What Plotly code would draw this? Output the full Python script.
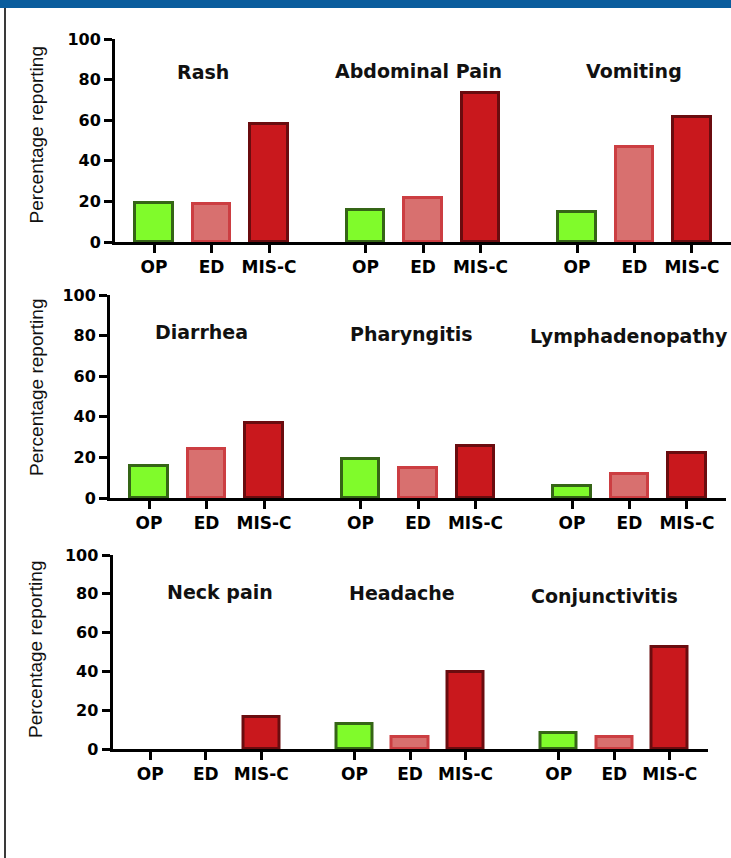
import plotly.graph_objects as go

# ---------------- data ----------------
settings = ["OP", "ED", "MIS-C"]
panel_symptoms = [
    ["Rash", "Abdominal Pain", "Vomiting"],
    ["Diarrhea", "Pharyngitis", "Lymphadenopathy"],
    ["Neck pain", "Headache", "Conjunctivitis"],
]
op_values = [19.0, 16.0, 14.8, 15.9, 19.2, 6.0, 0.0, 12.7, 8.2]
ed_values = [18.5, 21.6, 46.6, 24.2, 14.9, 11.8, 0.0, 6.0, 6.2]
misc_values = [58.0, 73.3, 61.7, 37.0, 25.6, 22.2, 16.5, 39.5, 52.6]
y_ticks = [0, 20, 40, 60, 80, 100]
y_title = "Percentage reporting"

# ---------------- style ----------------
W, H = 731, 858
GROUP_STEP = 3.68
fills = {"OP": "#80fb2b", "ED": "#d8706f", "MIS-C": "#c9181d"}
edges = {"OP": "#356516", "ED": "#cc3e42", "MIS-C": "#6a0c0f"}
values_by_setting = {"OP": op_values, "ED": ed_values, "MIS-C": misc_values}

# panel geometry in pixels: (axis_left, axis_right, y0_px, y100_px)
panels_px = [
    (115, 731, 242, 39),
    (110, 726, 498, 295),
    (112.5, 707.5, 749, 555),
]
# title placement offsets (x in category units, y in data units)
title_pos = [
    [(0.85, 83.7), (4.61, 84.2), (8.35, 84.2)],
    [(0.92, 81.8), (4.56, 80.8), (8.35, 79.8)],
    [(1.26, 80.9), (4.54, 80.4), (8.19, 78.9)],
]
ytitle_px = [(36, 135.5), (36, 388), (35, 650)]

fig = go.Figure()
annotations = []

for p in range(3):
    xa = "x" if p == 0 else f"x{p+1}"
    ya = "y" if p == 0 else f"y{p+1}"
    for k, s in enumerate(settings):
        vals = values_by_setting[s][p * 3:(p + 1) * 3]
        xs = [g * GROUP_STEP + k for g in range(3)]
        fig.add_trace(go.Bar(
            x=xs, y=vals, width=0.65, xaxis=xa, yaxis=ya,
            marker=dict(color=fills[s],
                        line=dict(color=edges[s],
                                  width=[0 if v == 0 else 3 for v in vals])),
            showlegend=False, hoverinfo="y",
        ))
    for g, name in enumerate(panel_symptoms[p]):
        tx, ty = title_pos[p][g]
        annotations.append(dict(
            x=tx, y=ty, xref=xa, yref=ya, text=name, showarrow=False,
            font=dict(family="DejaVu Sans", size=19, color="#111111", weight="bold"),
            xanchor="center", yanchor="middle"))
    ax_px, ay_px = ytitle_px[p]
    annotations.append(dict(
        x=ax_px / W, y=1 - ay_px / H, xref="paper", yref="paper",
        text=y_title, textangle=-90, showarrow=False,
        font=dict(family="Liberation Sans, Arial", size=19, color="#111111"),
        xanchor="center", yanchor="middle"))

tickvals = [g * GROUP_STEP + k for g in range(3) for k in range(3)]
ticktext = settings * 3

layout = dict(
    width=W, height=H, autosize=False, margin=dict(l=0, r=0, t=0, b=0, pad=0),
    plot_bgcolor="white", paper_bgcolor="white",
    bargap=0, annotations=annotations,
    shapes=[
        dict(type="rect", xref="paper", yref="paper", x0=0, x1=1,
             y0=1 - 8 / H, y1=1, fillcolor="#0a5d9d", line=dict(width=0),
             layer="above"),
        dict(type="line", xref="paper", yref="paper", x0=5 / W, x1=5 / W,
             y0=0, y1=1 - 8 / H, line=dict(color="#3a3a3a", width=2)),
    ],
)

for p in range(3):
    l_px, r_px, y0_px, y100_px = panels_px[p]
    xname = "xaxis" if p == 0 else f"xaxis{p+1}"
    yname = "yaxis" if p == 0 else f"yaxis{p+1}"
    xa_anchor = "y" if p == 0 else f"y{p+1}"
    ya_anchor = "x" if p == 0 else f"x{p+1}"
    layout[xname] = dict(
        domain=[l_px / W, min(r_px / W, 1)],
        range=[-0.68, 2 * GROUP_STEP + 2 + 0.68],
        anchor=xa_anchor, showgrid=False, zeroline=False, automargin=False,
        showline=True, linecolor="black", linewidth=3,
        ticks="outside", ticklen=8, tickwidth=3, tickcolor="black",
        tickvals=tickvals, ticktext=ticktext,
        tickfont=dict(family="DejaVu Sans", size=17, color="black", weight="bold"),
        fixedrange=True,
    )
    layout[yname] = dict(
        domain=[1 - y0_px / H, 1 - y100_px / H],
        range=[0, 100], anchor=ya_anchor, automargin=False,
        showgrid=False, zeroline=False,
        showline=True, linecolor="black", linewidth=3,
        ticks="outside", ticklen=8, tickwidth=3, tickcolor="black",
        tickvals=y_ticks,
        tickfont=dict(family="DejaVu Sans", size=16, color="black", weight="bold"),
        fixedrange=True,
    )

fig.update_layout(**layout)

fig.write_html(
    "out.html",
    post_script="document.body.style.margin='0';document.body.style.padding='0';"
                "document.body.style.overflow='hidden';",
)
